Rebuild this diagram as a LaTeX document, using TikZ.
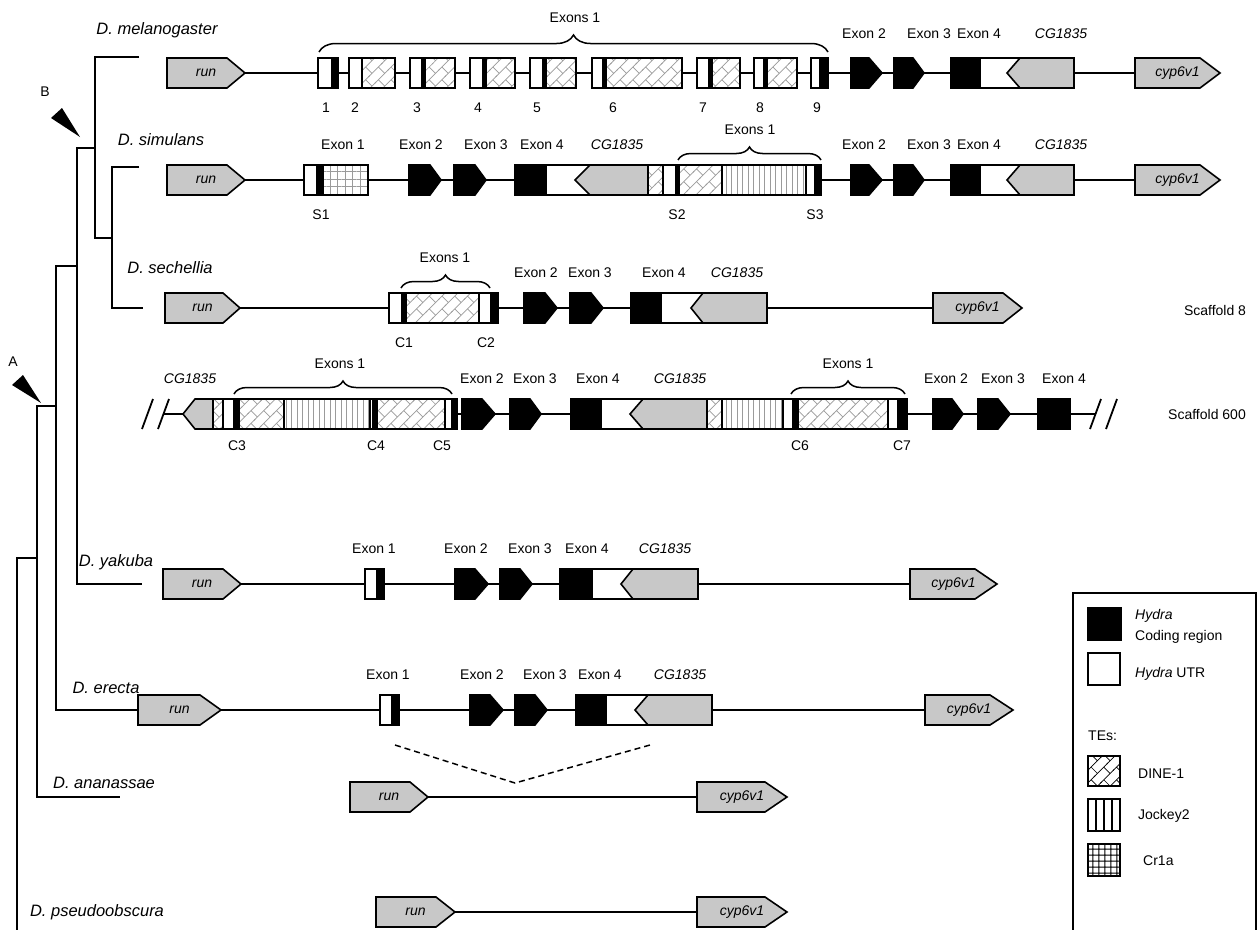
\documentclass[tikz,border=0pt]{standalone}
\usepackage{fontspec}
\setmainfont{Liberation Sans}
\usetikzlibrary{patterns.meta,decorations.pathreplacing}
\definecolor{genegray}{RGB}{200,200,200}
\definecolor{tegray}{RGB}{155,155,155}
\tikzdeclarepattern{
  name=dinep,
  type=uncolored,
  bottom left={(-1pt,-1pt)},
  top right={(19pt,19pt)},
  tile size={(18pt,18pt)},
  tile transformation={rotate=45},
  code={
    \draw[line width=0.7pt] (-1pt,0pt) -- (19pt,0pt) (-1pt,9pt) -- (19pt,9pt)
      (4pt,0pt) -- (4pt,9pt) (13pt,9pt) -- (13pt,18pt);
  }
}
\newcommand\GH{15}
\newcommand\rgene[6]{%
  \draw[bx, fill=genegray] (#1,#4-\GH) -- (#2,#4-\GH) -- (#3,#4) -- (#2,#4+\GH) -- (#1,#4+\GH) -- cycle;
  \node[gname] (#6) at ({(#1+#3)/2},#4) {#5};}
\newcommand\bexon[4]{%
  \draw[cod] (#1,#4-\GH) -- (#2,#4-\GH) -- (#3,#4) -- (#2,#4+\GH) -- (#1,#4+\GH) -- cycle;}
\newcommand\seg[4]{\path[#1] (#2,#4-\GH) rectangle (#3,#4+\GH);}
\newcommand\exfour[6]{%
  \fill[black] (#1,#6-\GH) rectangle (#2,#6+\GH);
  \fill[white] (#2,#6-\GH) rectangle (#4,#6+\GH);
  \fill[genegray] (#4,#6-\GH) -- (#5,#6-\GH) -- (#5,#6+\GH) -- (#4,#6+\GH) -- (#3,#6) -- cycle;
  \draw[bx] (#1,#6-\GH) rectangle (#5,#6+\GH);
  \draw[bx] (#4,#6-\GH) -- (#3,#6) -- (#4,#6+\GH);}
\def\yM{73}
\def\yS{180}
\def\yC{308}
\def\yF{414}
\def\yY{584}
\def\yE{710}
\def\yA{797}
\def\yP{912}
\begin{document}
\begin{tikzpicture}[x=1pt,y=-1pt,
  every node/.style={font=\fontsize{14}{17}\selectfont, inner sep=0pt},
  sp/.style={font=\fontsize{16.5}{20}\selectfont\itshape},
  gname/.style={font=\fontsize{14}{17}\selectfont\itshape},
  ln/.style={line width=1.8pt},
  bx/.style={draw, line width=1.6pt},
  utr/.style={bx, fill=white},
  cod/.style={bx, fill=black},
  dine/.style={bx, preaction={fill=white}, pattern=dinep, pattern color=tegray},
  jock/.style={bx, preaction={fill=white}, pattern={Lines[angle=90,distance=5.5pt,line width=0.8pt]}, pattern color=tegray},
  crp/.style={bx, preaction={fill=white}, pattern={Hatch[distance=7.5pt,line width=0.7pt]}, pattern color=tegray},
  tr/.style={line width=1.8pt},
  brc/.style={decorate, decoration={brace, amplitude=#1}, line width=1.5pt},
  brc/.default=13pt,
]
\useasboundingbox (0,0) rectangle (1258,929);

% ---------------- tree ----------------
\coordinate (nMel) at (139,\yM-16);
\coordinate (nSim) at (139,\yS-13);
\coordinate (nSech) at (143,\yC);
\coordinate (nYak) at (142,\yY);
\coordinate (nEre) at (140,\yE);
\coordinate (nAna) at (120,\yA);
\coordinate (jSS) at (112,238);
\coordinate (jMSS) at (95,148);
\coordinate (jMY) at (77,266);
\coordinate (jMYE) at (56,406);
\coordinate (jAll) at (37,558);
\coordinate (root) at (17,940);
\draw[tr] (nMel) -| (95,238) -- (jSS);
\draw[tr] (nSim) -| (112,\yC) -- (nSech);
\draw[tr] (jMSS) -- (77,148) |- (nYak);
\draw[tr] (jMY) -- (56,266) |- (nEre);
\draw[tr] (jMYE) -- (37,406) |- (nAna);
\draw[tr] (jAll) -- (17,558) -- (root);
\fill (51,118) -- (62,108) -- (80,137) -- cycle;
\node (labB) at (45,92) {B};
\fill (12,385) -- (23,375) -- (41,403) -- cycle;
\node (labA) at (13,362) {A};

\node[sp] (spMel) at (157,30) {D. melanogaster};
\node[sp] (spSim) at (161,\yS-40) {D. simulans};
\node[sp] (spSech) at (170,\yC-40) {D. sechellia};
\node[sp] (spYak) at (116,\yY-22) {D. yakuba};
\node[sp] (spEre) at (106,\yE-22) {D. erecta};
\node[sp] (spAna) at (104,\yA-14) {D. ananassae};
\node[sp] (spPse) at (97,\yP) {D. pseudoobscura};

% ---------------- melanogaster ----------------
\def\Y{\yM}
\draw[ln] (245,\Y) -- (1135,\Y);
\rgene{167}{227}{245}{\Y}{run}{melRun}
\seg{utr}{318}{332}{\Y}\seg{cod}{332}{338}{\Y}
\seg{utr}{349}{362}{\Y}\seg{dine}{362}{395}{\Y}
\seg{utr}{410}{422}{\Y}\seg{cod}{422}{425}{\Y}\seg{dine}{425}{455}{\Y}
\seg{utr}{470}{483}{\Y}\seg{cod}{483}{486}{\Y}\seg{dine}{486}{515}{\Y}
\seg{utr}{530}{543}{\Y}\seg{cod}{543}{546}{\Y}\seg{dine}{546}{576}{\Y}
\seg{utr}{592}{603}{\Y}\seg{cod}{603}{606}{\Y}\seg{dine}{606}{682}{\Y}
\seg{utr}{697}{709}{\Y}\seg{cod}{709}{712}{\Y}\seg{dine}{712}{740}{\Y}
\seg{utr}{754}{764}{\Y}\seg{cod}{764}{767}{\Y}\seg{dine}{767}{797}{\Y}
\seg{utr}{811}{820}{\Y}\seg{cod}{820}{828}{\Y}
\bexon{851}{869}{882}{\Y}
\bexon{894}{913}{924}{\Y}
\exfour{951}{981}{1007}{1020}{1074}{\Y}
\rgene{1135}{1200}{1220}{\Y}{cyp6v1}{melCyp}
\draw[brc=17pt] (319,\Y-21) -- (828,\Y-21);
\node (melEx1) at (575,\Y-55) {Exons 1};
\node (melE2) at (864,\Y-39) {Exon 2};
\node (melE3) at (929,\Y-39) {Exon 3};
\node (melE4) at (979,\Y-39) {Exon 4};
\node[gname] (melCG) at (1061,\Y-39) {CG1835};
\foreach \n/\x in {1/326,2/355,3/417,4/478,5/537,6/613,7/703,8/760,9/817}
  \node (melN\n) at (\x,\Y+35) {\n};

% ---------------- simulans ----------------
\def\Y{\yS}
\draw[ln] (245,\Y) -- (1135,\Y);
\rgene{167}{227}{245}{\Y}{run}{simRun}
\seg{utr}{304}{317}{\Y}\seg{cod}{317}{323}{\Y}\seg{crp}{323}{368}{\Y}
\bexon{409}{430}{441}{\Y}
\bexon{454}{475}{486}{\Y}
\exfour{515}{547}{575}{590}{648}{\Y}
\seg{dine}{648}{663}{\Y}\seg{utr}{663}{676}{\Y}\seg{cod}{676}{679}{\Y}
\seg{dine}{679}{722}{\Y}\seg{jock}{722}{806}{\Y}\seg{utr}{806}{815}{\Y}\seg{cod}{815}{821}{\Y}
\bexon{851}{869}{882}{\Y}
\bexon{894}{913}{924}{\Y}
\exfour{951}{981}{1007}{1020}{1074}{\Y}
\rgene{1135}{1200}{1220}{\Y}{cyp6v1}{simCyp}
\draw[brc] (678,\Y-20) -- (821,\Y-20);
\node (simEx1) at (750,\Y-50) {Exons 1};
\node (simE1) at (343,\Y-35) {Exon 1};
\node (simE2) at (421,\Y-35) {Exon 2};
\node (simE3) at (486,\Y-35) {Exon 3};
\node (simE4) at (542,\Y-35) {Exon 4};
\node[gname] (simCG) at (617,\Y-35) {CG1835};
\node (simE2b) at (864,\Y-35) {Exon 2};
\node (simE3b) at (929,\Y-35) {Exon 3};
\node (simE4b) at (979,\Y-35) {Exon 4};
\node[gname] (simCGb) at (1061,\Y-35) {CG1835};
\node (simS1) at (321,\Y+35) {S1};
\node (simS2) at (677,\Y+35) {S2};
\node (simS3) at (815,\Y+35) {S3};

% ---------------- sechellia ----------------
\def\Y{\yC}
\draw[ln] (240,\Y) -- (933,\Y);
\rgene{165}{223}{240}{\Y}{run}{secRun}
\seg{utr}{389}{402}{\Y}\seg{cod}{402}{406}{\Y}\seg{dine}{406}{479}{\Y}\seg{utr}{479}{491}{\Y}\seg{cod}{491}{498}{\Y}
\bexon{524}{545}{557}{\Y}
\bexon{570}{591}{603}{\Y}
\exfour{631}{662}{691}{703}{767}{\Y}
\rgene{933}{1003}{1022}{\Y}{cyp6v1}{secCyp}
\draw[brc] (401,\Y-20) -- (490,\Y-20);
\node (secEx1) at (445,\Y-50) {Exons 1};
\node (secE2) at (536,\Y-35) {Exon 2};
\node (secE3) at (590,\Y-35) {Exon 3};
\node (secE4) at (664,\Y-35) {Exon 4};
\node[gname] (secCG) at (737,\Y-35) {CG1835};
\node (secC1) at (404,\Y+35) {C1};
\node (secC2) at (486,\Y+35) {C2};
\node (scaf8) at (1215,\Y+2) {Scaffold 8};

% ---------------- scaffold 600 ----------------
\def\Y{\yF}
\draw[ln] (164,\Y) -- (1096,\Y);
\draw[ln] (142,\Y+15) -- (153,\Y-15);
\draw[ln] (158,\Y+15) -- (169,\Y-15);
\draw[ln] (1090,\Y+15) -- (1101,\Y-15);
\draw[ln] (1106,\Y+15) -- (1117,\Y-15);
\draw[bx, fill=genegray] (195,\Y-\GH) -- (213,\Y-\GH) -- (213,\Y+\GH) -- (195,\Y+\GH) -- (183,\Y) -- cycle;
\seg{dine}{213}{223}{\Y}\seg{utr}{223}{234}{\Y}\seg{cod}{234}{239}{\Y}
\seg{dine}{239}{284}{\Y}\seg{jock}{284}{370}{\Y}\seg{utr}{370}{373}{\Y}\seg{cod}{373}{377}{\Y}
\seg{dine}{377}{445}{\Y}\seg{utr}{445}{452}{\Y}\seg{cod}{452}{457}{\Y}
\bexon{462}{482}{495}{\Y}
\bexon{510}{530}{541}{\Y}
\exfour{571}{602}{630}{643}{707}{\Y}
\seg{dine}{707}{722}{\Y}\seg{jock}{722}{783}{\Y}\seg{utr}{783}{793}{\Y}\seg{cod}{793}{798}{\Y}
\seg{dine}{798}{888}{\Y}\seg{utr}{888}{898}{\Y}\seg{cod}{898}{907}{\Y}
\bexon{933}{952}{963}{\Y}
\bexon{978}{998}{1010}{\Y}
\seg{cod}{1038}{1070}{\Y}
\draw[brc] (234,\Y-20) -- (452,\Y-20);
\draw[brc] (791,\Y-20) -- (905,\Y-20);
\node (scEx1a) at (340,\Y-50) {Exons 1};
\node (scEx1b) at (848,\Y-50) {Exons 1};
\node[gname] (scCGa) at (190,\Y-35) {CG1835};
\node (scE2a) at (482,\Y-35) {Exon 2};
\node (scE3a) at (535,\Y-35) {Exon 3};
\node (scE4a) at (598,\Y-35) {Exon 4};
\node[gname] (scCGb) at (680,\Y-35) {CG1835};
\node (scE2b) at (946,\Y-35) {Exon 2};
\node (scE3b) at (1003,\Y-35) {Exon 3};
\node (scE4b) at (1064,\Y-35) {Exon 4};
\foreach \n/\x in {3/237,4/376,5/442,6/800,7/902}
  \node (scC\n) at (\x,\Y+32) {C\n};
\node (scaf600) at (1207,\Y) {Scaffold 600};

% ---------------- yakuba ----------------
\def\Y{\yY}
\draw[ln] (241,\Y) -- (910,\Y);
\rgene{163}{223}{241}{\Y}{run}{yakRun}
\seg{utr}{365}{377}{\Y}\seg{cod}{377}{384}{\Y}
\bexon{455}{475}{488}{\Y}
\bexon{500}{520}{532}{\Y}
\exfour{560}{593}{621}{633}{698}{\Y}
\rgene{910}{975}{997}{\Y}{cyp6v1}{yakCyp}
\node (yakE1) at (374,\Y-35) {Exon 1};
\node (yakE2) at (466,\Y-35) {Exon 2};
\node (yakE3) at (530,\Y-35) {Exon 3};
\node (yakE4) at (587,\Y-35) {Exon 4};
\node[gname] (yakCG) at (665,\Y-35) {CG1835};

% ---------------- erecta ----------------
\def\Y{\yE}
\draw[ln] (221,\Y) -- (925,\Y);
\rgene{138}{200}{221}{\Y}{run}{ereRun}
\seg{utr}{380}{392}{\Y}\seg{cod}{392}{399}{\Y}
\bexon{470}{490}{503}{\Y}
\bexon{515}{535}{547}{\Y}
\exfour{576}{607}{635}{648}{712}{\Y}
\rgene{925}{990}{1013}{\Y}{cyp6v1}{ereCyp}
\node (ereE1) at (388,\Y-35) {Exon 1};
\node (ereE2) at (482,\Y-35) {Exon 2};
\node (ereE3) at (545,\Y-35) {Exon 3};
\node (ereE4) at (600,\Y-35) {Exon 4};
\node[gname] (ereCG) at (680,\Y-35) {CG1835};
\coordinate (dL) at (395,\yE+35);
\coordinate (dR) at (650,\yE+35);
\coordinate (dM) at (515,\yA-14);
\draw[line width=1.5pt, dash pattern=on 6pt off 4pt] (dL) -- (dM) -- (dR);

% ---------------- ananassae ----------------
\def\Y{\yA}
\draw[ln] (428,\Y) -- (697,\Y);
\rgene{350}{410}{428}{\Y}{run}{anaRun}
\rgene{697}{765}{787}{\Y}{cyp6v1}{anaCyp}

% ---------------- pseudoobscura ----------------
\def\Y{\yP}
\draw[ln] (455,\Y) -- (697,\Y);
\rgene{376}{436}{455}{\Y}{run}{pseRun}
\rgene{697}{765}{787}{\Y}{cyp6v1}{pseCyp}

% ---------------- legend ----------------
\draw[bx] (1073,940) -- (1073,593) -- (1256,593) -- (1256,940);
\path[cod] (1088,608) rectangle (1121,640);
\node[anchor=west, font=\fontsize{14}{17}\selectfont\itshape] (lgHy) at (1135,616) {Hydra};
\node[anchor=west] (lgCod) at (1135,637) {Coding region};
\path[utr] (1088,653) rectangle (1120,685);
\node[anchor=west] (lgUTR) at (1135,674) {\textit{Hydra} UTR};
\node[anchor=west] (lgTE) at (1088,736) {TEs:};
\path[bx, preaction={fill=white}, pattern=dinep, pattern color=black] (1088,756) rectangle (1120,786);
\node[anchor=west] (lgD) at (1138,774) {DINE-1};
\path[bx, preaction={fill=white}, pattern={Lines[angle=90,distance=8pt,line width=1.2pt]}, pattern color=black] (1088,799) rectangle (1120,831);
\node[anchor=west] (lgJ) at (1138,816) {Jockey2};
\path[bx, preaction={fill=white}, pattern={Hatch[distance=6.4pt,line width=1.1pt]}, pattern color=black] (1088,844) rectangle (1120,876);
\node[anchor=west] (lgC) at (1143,861) {Cr1a};
\end{tikzpicture}
\end{document}
